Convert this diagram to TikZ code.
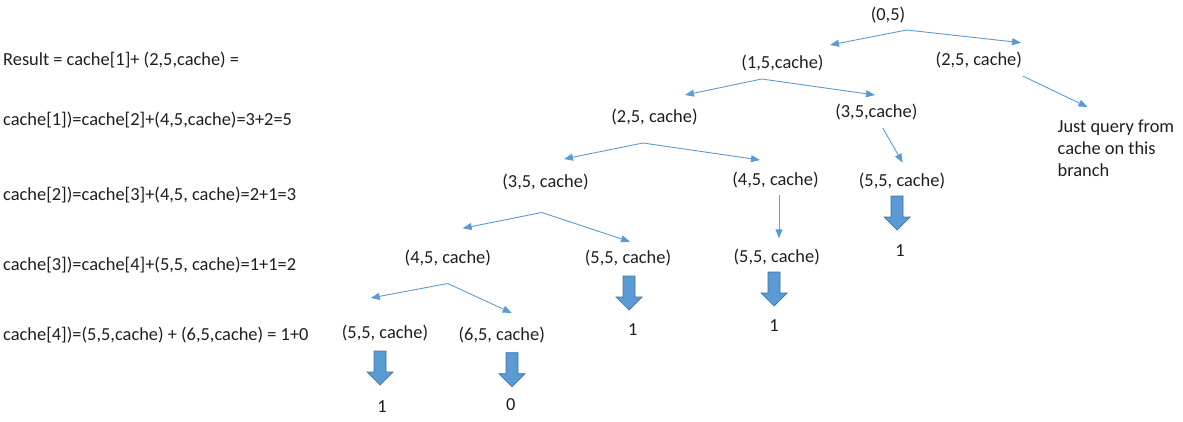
\documentclass[tikz,border=0pt]{standalone}
\usepackage{fontspec}
\setmainfont{Carlito}
\usetikzlibrary{arrows.meta}
\definecolor{linkblue}{HTML}{5B9BD5}
\definecolor{blockedge}{HTML}{41719C}
\definecolor{txt}{RGB}{30,30,30}
\tikzset{
  lbl/.style={inner sep=0pt, text=txt, font=\fontsize{18.4}{22}\selectfont},
  lefttxt/.style={lbl, anchor=west},
  conn/.style={draw=linkblue, line width=0.9pt, -{Triangle[length=9pt,width=7pt]}},
  blockarr/.pic={\draw[fill=linkblue, draw=blockedge, line width=0.7pt]
     (-6,0) -- (6,0) -- (6,21) -- (13,21) -- (0,34) -- (-13,21) -- (-6,21) -- cycle;}
}
\begin{document}
\begin{tikzpicture}[x=1pt,y=-1pt]
\useasboundingbox (0,0) rectangle (1183,421);

% left equations
\node[lefttxt] (r0) at (3,60) {Result = cache[1]+ (2,5,cache) =};
\node[lefttxt] (r1) at (3,120) {cache[1])=cache[2]+(4,5,cache)=3+2=5};
\node[lefttxt] (r2) at (3,195) {cache[2])=cache[3]+(4,5, cache)=2+1=3};
\node[lefttxt] (r3) at (3,265) {cache[3])=cache[4]+(5,5, cache)=1+1=2};
\node[lefttxt] (r4) at (3,335) {cache[4])=(5,5,cache) + (6,5,cache) = 1+0};

% tree nodes
\node[lbl] (n05) at (888,15) {(0,5)};
\node[lbl] (n15) at (782.5,63.5) {(1,5,cache)};
\node[lbl] (n25r) at (978.8,60) {(2,5, cache)};
\node[lbl, align=left, anchor=west] (note) at (1057.5,148) {Just query from\\cache on this\\branch};
\node[lbl] (n25) at (654.5,117.5) {(2,5, cache)};
\node[lbl] (n35r) at (876.3,111.7) {(3,5,cache)};
\node[lbl] (n35) at (545.5,181.7) {(3,5, cache)};
\node[lbl] (n45m) at (775.5,180) {(4,5, cache)};
\node[lbl] (n55r) at (902,180.7) {(5,5, cache)};
\node[lbl] (n45) at (447.8,258.3) {(4,5, cache)};
\node[lbl] (n55m) at (628,258.3) {(5,5, cache)};
\node[lbl] (n55mr) at (776.7,256.7) {(5,5, cache)};
\node[lbl] (n55) at (385,333) {(5,5, cache)};
\node[lbl] (n65) at (501.7,335) {(6,5, cache)};

% results
\node[lbl] (v1) at (900,250.7) {1};
\node[lbl] (v2) at (632.7,330) {1};
\node[lbl] (v3) at (774,326) {1};
\node[lbl] (v4) at (382,406.7) {1};
\node[lbl] (v5) at (510.7,405) {0};

% connector end points
\coordinate (a05) at (906.7,30);
\coordinate (t15) at (830,45);
\coordinate (t25r) at (1021,42.7);
\coordinate (a15) at (761.7,79);
\coordinate (t25) at (685,95);
\coordinate (t35r) at (875,95);
\coordinate (s25r) at (1022.7,76);
\coordinate (tnote) at (1087.5,107);
\coordinate (s35r) at (882.7,128);
\coordinate (t55r) at (902.7,162.7);
\coordinate (a25) at (643,143);
\coordinate (t35) at (564,159);
\coordinate (t45m) at (760,160);
\coordinate (a35) at (541.7,212.5);
\coordinate (t45) at (462.7,228.3);
\coordinate (t55m) at (630,241.7);
\coordinate (s45m) at (779,195);
\coordinate (t55mr) at (779,238.3);
\coordinate (a45) at (447.7,283.5);
\coordinate (t55) at (370.7,298);
\coordinate (t65) at (511.7,313);

\draw[conn] (a05) -- (t15);
\draw[conn] (a05) -- (t25r);
\draw[conn] (a15) -- (t25);
\draw[conn] (a15) -- (t35r);
\draw[conn] (s25r) -- (tnote);
\draw[conn] (s35r) -- (t55r);
\draw[conn] (a25) -- (t35);
\draw[conn] (a25) -- (t45m);
\draw[conn] (a35) -- (t45);
\draw[conn] (a35) -- (t55m);
\draw[conn] (s45m) -- (t55mr);
\draw[conn] (a45) -- (t55);
\draw[conn] (a45) -- (t65);

% block arrows
\pic at (897,196) {blockarr};
\pic at (629,276) {blockarr};
\pic at (774,272) {blockarr};
\pic at (380,351) {blockarr};
\pic at (512,352.7) {blockarr};
\end{tikzpicture}
\end{document}
